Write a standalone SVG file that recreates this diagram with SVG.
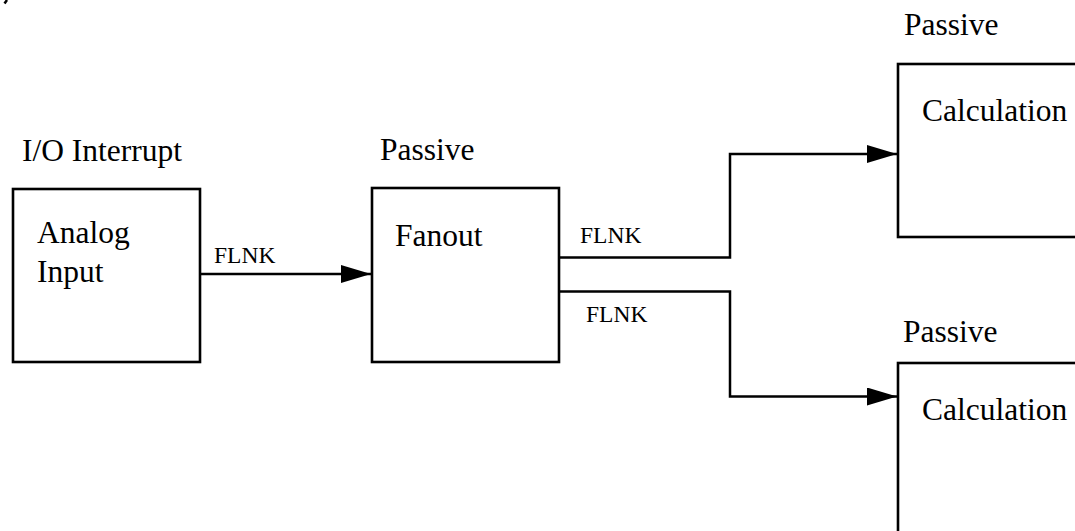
<svg xmlns="http://www.w3.org/2000/svg" width="1075" height="531" viewBox="0 0 1075 531">
<style>
.box{fill:#fff;stroke:#000;stroke-width:2.6}
.big{font-family:"Liberation Serif","Times New Roman",serif;font-size:31.5px;fill:#000}
.small{font-family:"Liberation Serif","Times New Roman",serif;font-size:23.5px;fill:#000}
.wire{fill:none;stroke:#000;stroke-width:2.5}
</style>
<defs>
<marker id="arr" markerWidth="30" markerHeight="18" refX="30" refY="9" orient="auto" markerUnits="userSpaceOnUse">
<path d="M0,0 L30,9 L0,18 Z" fill="#000"/>
</marker>
</defs>
<rect width="1075" height="531" fill="#fff"/>
<path d="M4.5,3.5 L7,0" stroke="#000" stroke-width="2.5"/>
<g id="node-analog">
<text class="big" x="22" y="161">I/O Interrupt</text>
<rect class="box" x="13" y="189" width="187" height="173"/>
<text class="big" x="37" y="243">Analog</text>
<text class="big" x="37" y="282">Input</text>
</g>
<g id="node-fanout">
<text class="big" x="380" y="160">Passive</text>
<rect class="box" x="372" y="188" width="187" height="174"/>
<text class="big" x="395" y="246">Fanout</text>
</g>
<g id="node-calc1">
<text class="big" x="904" y="35">Passive</text>
<rect class="box" x="898" y="64" width="200" height="173"/>
<text class="big" x="922" y="121">Calculation</text>
</g>
<g id="node-calc2">
<text class="big" x="903" y="342">Passive</text>
<rect class="box" x="898" y="363" width="200" height="200"/>
<text class="big" x="922" y="420">Calculation</text>
</g>
<g id="connectors">
<path class="wire" d="M200,274 L371,274" marker-end="url(#arr)"/>
<text class="small" x="214" y="263">FLNK</text>
<path class="wire" d="M559,257.5 L730,257.5 L730,154 L897,154" marker-end="url(#arr)"/>
<text class="small" x="580" y="243">FLNK</text>
<path class="wire" d="M559,291.5 L730,291.5 L730,396.5 L897,396.5" marker-end="url(#arr)"/>
<text class="small" x="586" y="322">FLNK</text>
</g>
</svg>
